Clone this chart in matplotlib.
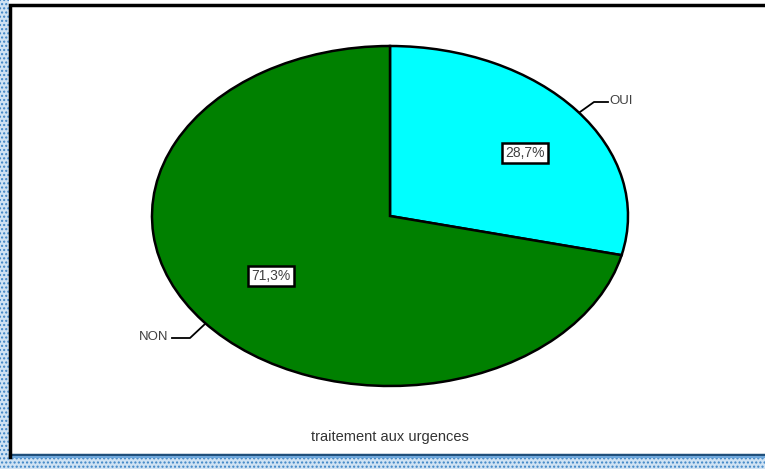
import matplotlib.pyplot as plt
from matplotlib.patches import Rectangle

plt.rcParams['font.family'] = ['Liberation Sans', 'DejaVu Sans']

# data
categories = ["OUI", "NON"]
values = [28.7, 71.3]
pct_labels = ["28,7%", "71,3%"]
colors = ["#00FFFF", "#008000"]
title = "traitement aux urgences"

W, H = 765, 469
fig = plt.figure(figsize=(W / 100, H / 100), dpi=100)
fig.patch.set_facecolor("white")

# background axes in pixel coordinates (frame + borders)
bg = fig.add_axes([0, 0, 1, 1])
bg.set_xlim(0, W)
bg.set_ylim(H, 0)
bg.axis("off")

# blue dotted page border (left and bottom)
bg.add_patch(Rectangle((0, 0), 9, H, facecolor="#cfe2f3", edgecolor="#3d85c6",
                       hatch="....", linewidth=0))
bg.add_patch(Rectangle((0, 458), W, 11, facecolor="#cfe2f3", edgecolor="#3d85c6",
                       hatch="....", linewidth=0))
bg.plot([10, W], [455.5, 455.5], color="#1f4e79", lw=2.5)
bg.plot([10, W], [457.5, 457.5], color="#6fa8dc", lw=1.5)
# black chart frame
bg.plot([10, 10, W + 5], [457, 5, 5], color="black", lw=2.5, solid_joinstyle="miter")

# pie axes, stretched to the ellipse bounding box
cx, cy, rx, ry = 390, 216, 238, 170
ax = fig.add_axes([(cx - rx) / W, (H - cy - ry) / H, 2 * rx / W, 2 * ry / H])
ax.patch.set_alpha(0)
ax.pie(values, colors=colors, startangle=90, counterclock=False,
       wedgeprops=dict(edgecolor="black", linewidth=1.8))
ax.set_xlim(-1, 1)
ax.set_ylim(-1, 1)
ax.set_aspect("auto")
ax.axis("off")

# overlay for labels, in pixel coordinates
ov = fig.add_axes([0, 0, 1, 1])
ov.set_xlim(0, W)
ov.set_ylim(H, 0)
ov.axis("off")
ov.patch.set_alpha(0)

box = dict(boxstyle="square,pad=0.25", facecolor="white", edgecolor="black", linewidth=1.8)
ov.text(525, 153, pct_labels[0], ha="center", va="center", fontsize=10,
        color="#404040", bbox=box)
ov.text(271, 276, pct_labels[1], ha="center", va="center", fontsize=10,
        color="#404040", bbox=box)

# leader lines
ov.plot([580, 594, 608], [112, 102, 102], color="black", lw=1.3)
ov.text(609, 101, categories[0], ha="left", va="center", fontsize=9.5, color="#404040")
ov.plot([172, 190, 205], [338, 338, 324], color="black", lw=1.3)
ov.text(168, 337, categories[1], ha="right", va="center", fontsize=9.5, color="#404040")

ov.text(390, 437, title, ha="center", va="center", fontsize=10.5, color="#333333")

fig.savefig("out.png", dpi=100)
